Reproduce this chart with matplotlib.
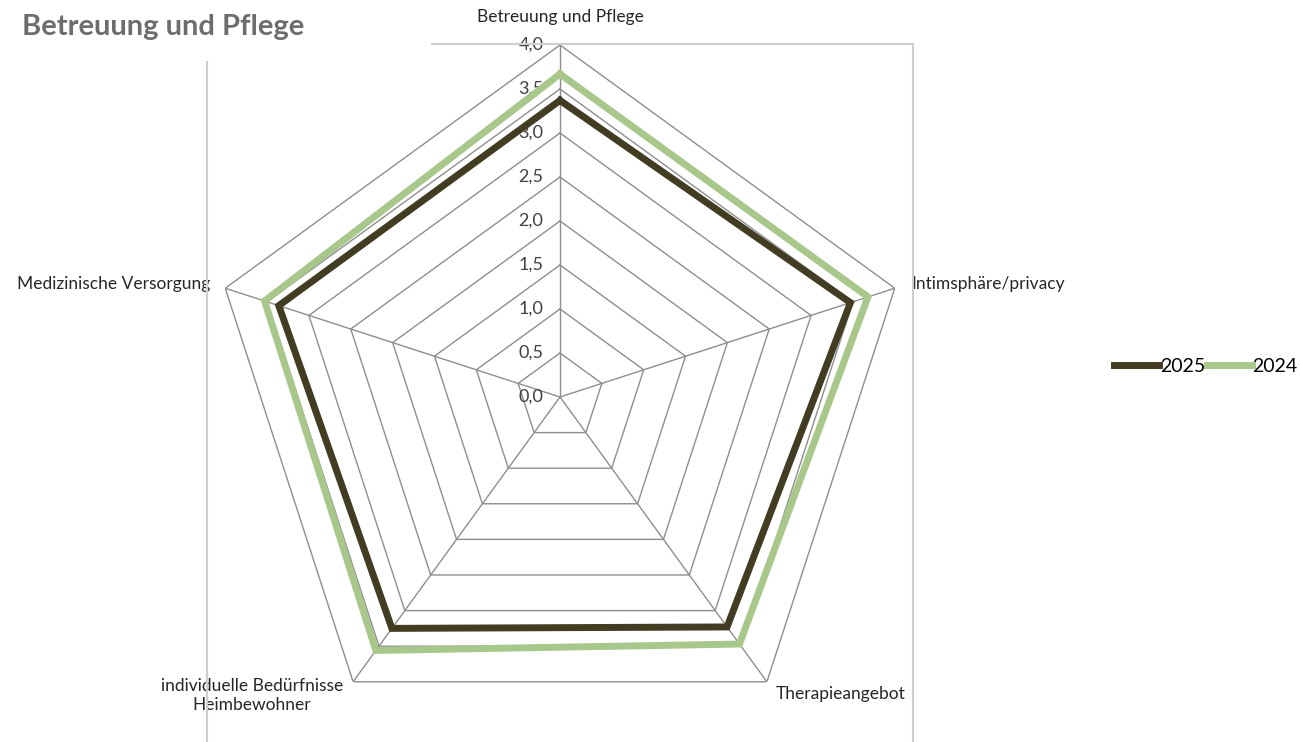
import numpy as np
import matplotlib.pyplot as plt
from matplotlib.lines import Line2D

categories = ["Betreuung und Pflege", "Intimsphäre/privacy", "Therapieangebot",
              "individuelle Bedürfnisse\nHeimbewohner", "Medizinische Versorgung"]
vals_2025 = [3.37, 3.47, 3.23, 3.25, 3.36]
vals_2024 = [3.67, 3.68, 3.47, 3.56, 3.53]
rings = [0.5, 1.0, 1.5, 2.0, 2.5, 3.0, 3.5, 4.0]
ring_labels = ["0,0", "0,5", "1,0", "1,5", "2,0", "2,5", "3,0", "3,5", "4,0"]

dark = "#413c22"
green = "#a8c78b"
grid_col = "#8e8e8e"

plt.rcParams['font.family'] = ['Lato', 'DejaVu Sans']

W, H = 1300, 742
fig = plt.figure(figsize=(W / 100, H / 100), dpi=100)

# pixel geometry of the web: centre and outer radius
cx, cy, R = 560, 397, 352
ax = fig.add_axes([(cx - R) / W, (H - cy - R) / H, 2 * R / W, 2 * R / H],
                  projection='polar')
ax.set_theta_zero_location('N')
ax.set_theta_direction(-1)
ax.set_ylim(0, 4)
ax.grid(False)
ax.set_xticks([])
ax.set_yticks([])
ax.spines['polar'].set_visible(False)
ax.patch.set_alpha(0)

n = len(categories)
theta = np.arange(n) * 2 * np.pi / n
theta_c = np.append(theta, theta[0])

# polygon rings and spokes
for r in rings:
    ax.plot(theta_c, [r] * (n + 1), color=grid_col, lw=1.0, zorder=1)
for t in theta:
    ax.plot([t, t], [0, 4], color=grid_col, lw=1.0, zorder=1)

# radial value labels along the top spoke
for i, lab in enumerate(ring_labels):
    ax.annotate(lab, xy=(0, i * 0.5), xytext=(-12, 0), textcoords='offset points',
                ha='right', va='center', fontsize=13, color='#404040')

# series
ax.plot(theta_c, vals_2024 + vals_2024[:1], color=green, lw=5, zorder=3,
        solid_joinstyle='miter')
ax.plot(theta_c, vals_2025 + vals_2025[:1], color=dark, lw=5, zorder=4,
        solid_joinstyle='miter')

# category labels at outer vertices
offsets = [((0, 20), 'center'), ((12, 3), 'left'), ((6.5, -9), 'left'),
           ((-73, -10), 'center'), ((-11, 3), 'right')]
for t, lab, (off, ha) in zip(theta, categories, offsets):
    ax.annotate(lab, xy=(t, 4), xytext=off, textcoords='offset points',
                ha=ha, va='center', fontsize=12.5, color='#262626',
                multialignment='center', linespacing=1.25)

# light frame lines around the plot area
frame = '#cfcfcf'
fig.add_artist(Line2D([432 / W, 913 / W], [1 - 44 / H, 1 - 44 / H],
                      color=frame, lw=1.5))
fig.add_artist(Line2D([913 / W, 913 / W], [1 - 44 / H, 0], color=frame, lw=1.5))
fig.add_artist(Line2D([207 / W, 207 / W], [1 - 62 / H, 0], color=frame, lw=1.5))

fig.text(22 / W, 1 - 27 / H, "Betreuung und Pflege", fontsize=21,
         fontweight='bold', color='#6d6d6d', va='center', ha='left')

handles = [Line2D([], [], color=dark, lw=5), Line2D([], [], color=green, lw=5)]
fig.legend(handles, ["2025", "2024"], loc='center left',
           bbox_to_anchor=(1114 / W, 1 - 366 / H), ncol=2, frameon=False,
           fontsize=14, handlelength=2.3, handletextpad=0.05,
           columnspacing=0.1, borderpad=0, borderaxespad=0)

fig.savefig("out.png", dpi=100)
